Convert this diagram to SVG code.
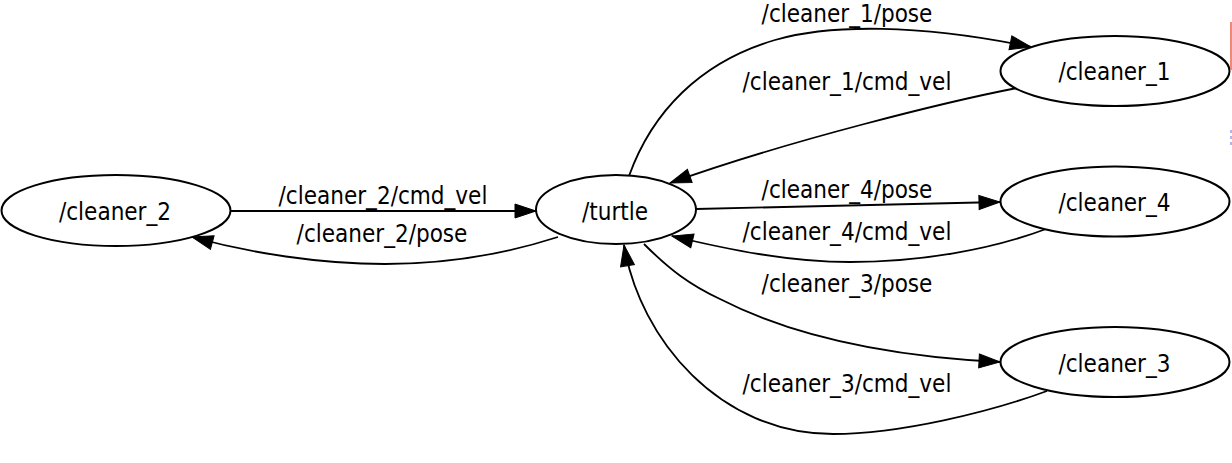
<svg xmlns="http://www.w3.org/2000/svg" width="1232" height="463" viewBox="0 0 1232 463">
<style>
  .node ellipse { fill: #ffffff; stroke: #000000; stroke-width: 2; }
  .node text, .elabel { font-family: "DejaVu Sans Condensed", "DejaVu Sans", "Noto Sans", sans-serif; font-stretch: condensed; font-size: 24px; fill: #000000; text-anchor: middle; }
  .edge { fill: none; stroke: #000000; stroke-width: 1.8; marker-end: url(#arrow); }
</style>
<defs>
  <marker id="arrow" markerUnits="userSpaceOnUse" markerWidth="22" markerHeight="15" refX="21" refY="7" orient="auto" overflow="visible">
    <path d="M0,0 L21,7 L0,14 Z" fill="#000000" stroke="#000000" stroke-width="1"/>
  </marker>
</defs>
<rect x="0" y="0" width="1232" height="463" fill="#ffffff"/>

<g id="connectors">
  <path class="edge" d="M231,211 L536,211"/>
  <path class="edge" d="M558,237 C505,254 450,264 385,264 C320,264 250,253 192,237"/>
  <path class="edge" d="M629,176 C652,112 700,62 775,40 C830,24 920,24 1031,47"/>
  <path class="edge" d="M1017,88 C950,101 790,140 670,183"/>
  <path class="edge" d="M696,209 L1000,202"/>
  <path class="edge" d="M1046,229 C990,250 920,262 850,262 C790,262 730,250 672,236"/>
  <path class="edge" d="M644,244 C670,270 690,285 720,299 C790,335 880,356 1000,362"/>
  <path class="edge" d="M1047,391 C990,412 900,434 833,434 C720,434 640,340 624,245"/>
  <text class="elabel" x="383" y="204">/cleaner_2/cmd_vel</text>
  <text class="elabel" x="382" y="242">/cleaner_2/pose</text>
  <text class="elabel" x="847" y="22">/cleaner_1/pose</text>
  <text class="elabel" x="847" y="90">/cleaner_1/cmd_vel</text>
  <text class="elabel" x="847" y="198">/cleaner_4/pose</text>
  <text class="elabel" x="847" y="240">/cleaner_4/cmd_vel</text>
  <text class="elabel" x="847" y="292">/cleaner_3/pose</text>
  <text class="elabel" x="847" y="392">/cleaner_3/cmd_vel</text>
</g>

<g id="node-cleaner_2" class="node">
  <ellipse cx="116" cy="210.5" rx="114.5" ry="35.5"/>
  <text x="115" y="219.5">/cleaner_2</text>
</g>
<g id="node-turtle" class="node">
  <ellipse cx="616" cy="209.5" rx="80" ry="34.5"/>
  <text x="615" y="219.5">/turtle</text>
</g>
<g id="node-cleaner_1" class="node">
  <ellipse cx="1115" cy="71" rx="114.5" ry="35"/>
  <text x="1114.5" y="80">/cleaner_1</text>
</g>
<g id="node-cleaner_4" class="node">
  <ellipse cx="1115" cy="201.5" rx="114.5" ry="35"/>
  <text x="1114.5" y="210.5">/cleaner_4</text>
</g>
<g id="node-cleaner_3" class="node">
  <ellipse cx="1115" cy="362" rx="114.5" ry="35"/>
  <text x="1114.5" y="371.5">/cleaner_3</text>
</g>

<line x1="1231" y1="22" x2="1231" y2="70" stroke="#e8604c" stroke-width="1.5"/>
<line x1="1231" y1="130" x2="1231" y2="148" stroke="#9a9ae0" stroke-width="1.5" stroke-dasharray="3,3"/>
</svg>
